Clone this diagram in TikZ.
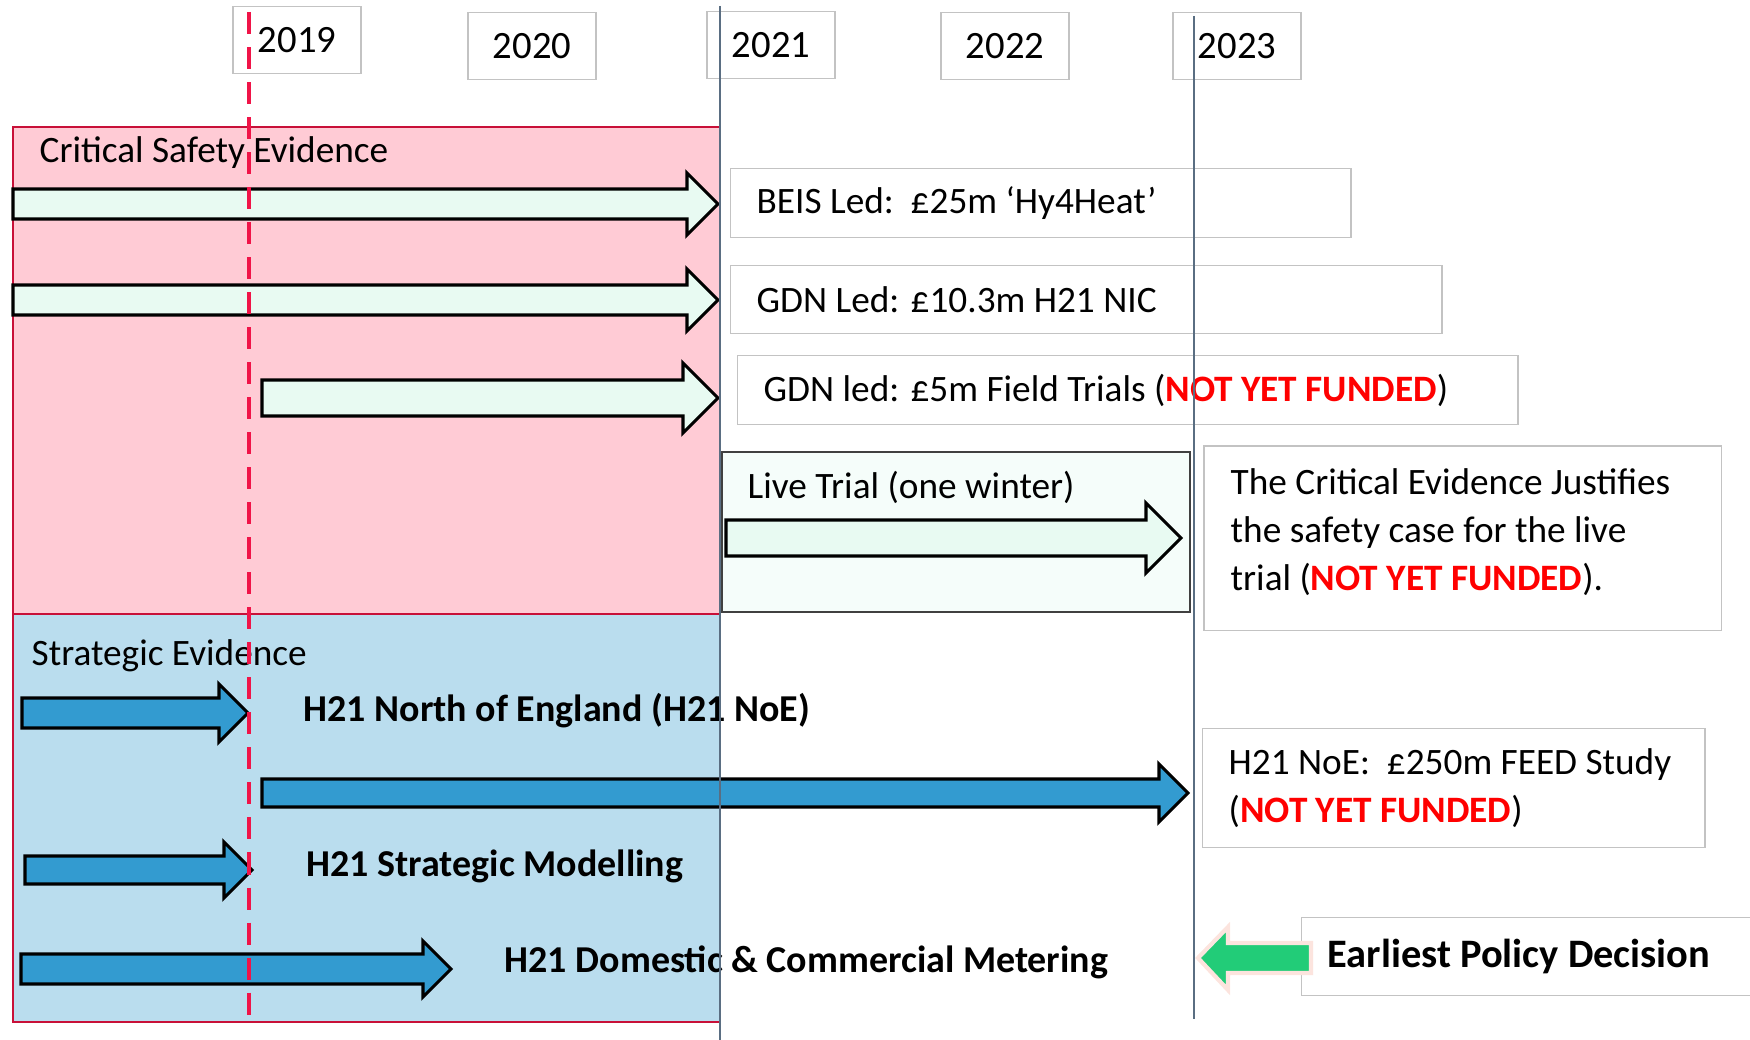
\documentclass[tikz,border=0pt]{standalone}
\usepackage{fontspec}
\setmainfont{Carlito}
\usepackage{tikz}

\definecolor{critpink}{RGB}{255,203,213}
\definecolor{stratblue}{RGB}{186,221,238}
\definecolor{edgered}{RGB}{200,16,56}
\definecolor{dashred}{RGB}{240,20,72}
\definecolor{mint}{RGB}{232,250,242}
\definecolor{livemint}{RGB}{245,253,250}
\definecolor{h21blue}{RGB}{51,155,208}
\definecolor{policygreen}{RGB}{34,204,120}
\definecolor{glow}{RGB}{252,228,222}
\definecolor{boxgray}{RGB}{195,195,195}
\definecolor{yearline}{RGB}{90,110,130}
\definecolor{fundred}{RGB}{255,0,0}

\newcommand{\notfunded}{\textcolor{fundred}{\textbf{NOT YET FUNDED}}}
\newcommand{\blockarrow}[6]{\draw[#1] (#2,#4-#5) -- (#3-#6,#4-#5) -- (#3-#6,#4-#6) -- (#3,#4) -- (#3-#6,#4+#6) -- (#3-#6,#4+#5) -- (#2,#4+#5) -- cycle;}

\tikzset{
  year/.style={draw=boxgray, minimum width=1.28cm, minimum height=0.67cm, font=\fontsize{11}{13}\selectfont},
  infobox/.style={draw=boxgray, fill=white, anchor=north west, align=flush left, inner xsep=0.26cm, inner ysep=0pt},
  lbl/.style={anchor=base west, inner sep=0pt},
  boldlbl/.style={lbl, font=\bfseries\fontsize{10.8}{13}\selectfont},
  greenarrow/.style={draw=black, fill=mint, line width=0.9pt},
  bluearrow/.style={draw=black, fill=h21blue, line width=0.9pt}
}

\begin{document}
\begin{tikzpicture}[x=0.01cm, y=-0.01cm, font=\fontsize{10.6}{13.7}\selectfont]
\useasboundingbox (0,0) rectangle (1750,1040);

\filldraw[fill=critpink, draw=edgered, line width=0.8pt] (13,127) rectangle (720,614);
\filldraw[fill=stratblue, draw=edgered, line width=0.8pt] (13,614) rectangle (720,1022);
\filldraw[fill=livemint, draw=black!75, line width=0.6pt] (722,452) rectangle (1190,612);

\node[year] (y2019) at (297,40) {2019};
\node[year] (y2020) at (532,46) {2020};
\node[year] (y2021) at (771,45) {2021};
\node[year] (y2022) at (1005,46) {2022};
\node[year] (y2023) at (1237,46) {2023};

\node[lbl] (critical) at (39,163) {Critical Safety Evidence};
\node[lbl] (strategic) at (31,666) {Strategic Evidence};
\node[lbl] (live) at (747,499) {Live Trial (one winter)};

\node[infobox, text width=5.68cm, minimum height=0.69cm] (beis) at (730,168) {BEIS Led:\ \ £25m ‘Hy4Heat’};
\node[infobox, text width=6.59cm, minimum height=0.68cm] (gdnnic) at (730,265) {GDN Led: £10.3m H21 NIC};
\node[infobox, text width=7.28cm, minimum height=0.69cm] (gdnfield) at (737,355) {GDN led: £5m Field Trials (\notfunded)};
\node[infobox, draw=none, text width=4.64cm, minimum height=1.71cm] (justify) at (1204,446) {The Critical Evidence Justifies\\the safety case for the live\\trial (\notfunded).};
\draw[boxgray] (justify.north west) rectangle ([yshift=-0.12cm]justify.south east);
\node[infobox, text width=4.50cm, minimum height=1.19cm] (feed) at (1202,728) {H21 NoE:\ \ £250m FEED Study\\(\notfunded)};
\node[infobox, text width=4.20cm, minimum height=0.78cm, font=\bfseries\fontsize{11.5}{14}\selectfont] (policy) at (1301,917) {Earliest Policy Decision};

\blockarrow{greenarrow}{13}{718}{204}{15}{31}
\blockarrow{greenarrow}{13}{718}{300}{15}{31}
\blockarrow{greenarrow}{262}{718}{398}{18}{35}
\blockarrow{greenarrow}{726}{1181}{538}{18}{35}

\blockarrow{bluearrow}{22}{248}{713}{15}{29}
\blockarrow{bluearrow}{262}{1188}{793}{14}{29}
\blockarrow{bluearrow}{25}{252}{870}{14}{28}
\blockarrow{bluearrow}{21}{451}{969}{15}{28}

\node[boldlbl] (noe) at (303,722) {H21 North of England (H21 NoE)};
\node[boldlbl] (modelling) at (306,877) {H21 Strategic Modelling};
\node[boldlbl] (metering) at (504,973) {H21 Domestic \& Commercial Metering};

\filldraw[fill=policygreen, draw=glow, line width=1.2pt] (1198,958) -- (1228,927) -- (1228,943) -- (1311,943) -- (1311,973) -- (1228,973) -- (1228,990) -- cycle;

\draw[yearline, line width=0.6pt] (720,6) -- (720,1040);
\draw[yearline, line width=0.6pt] (1194,16) -- (1194,1019);
\draw[dashred, line width=1.1pt, dash pattern=on 0.22cm off 0.13cm] (249,12) -- (249,1025);
\end{tikzpicture}
\end{document}
